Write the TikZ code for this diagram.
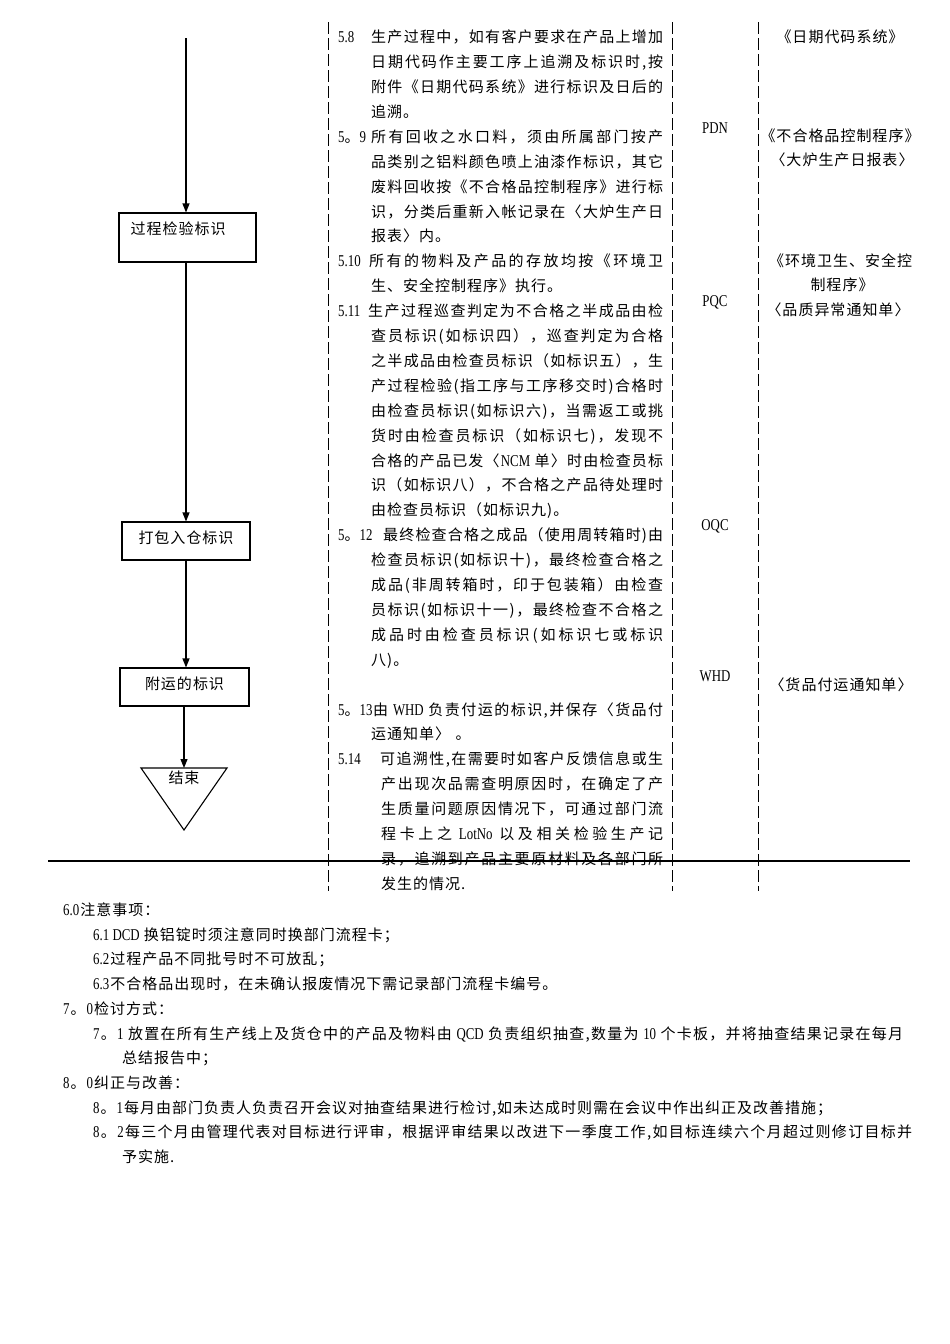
\documentclass[tikz,border=0pt]{standalone}
\usepackage{fontspec}
\setmainfont{Noto Sans CJK SC}
\newfontfamily\latf{Liberation Serif}[FakeStretch=0.78,Scale=1.1]
\usetikzlibrary{arrows.meta}
\ExplSyntaxOn
\cs_new_protected:Npn \rs_nat:n #1
  { \tl_map_inline:nn {#1} { {##1} \skip_horizontal:n { 1pt } } \unskip }
\cs_new_protected:Npn \rs_just:nn #1#2
  { \hbox_to_wd:nn {#1} { \tl_map_inline:nn {#2} { {##1} \skip_horizontal:n { 1pt plus 1fil } } \unskip } }
\NewDocumentCommand \NT { m } { \rs_nat:n {#1} }
\NewDocumentCommand \JT { m m } { \rs_just:nn {#1} {#2} }
\ExplSyntaxOff
\newcommand\ly[1]{(42.7+24.9*#1)}
\newcommand\by[1]{(915.5+24.7*#1)}
\newcommand\JLine[5]{\node[nl] (#1) at (#2,{\ly{#3}}) {\JT{#4pt}{#5}};}
\newcommand\NLine[4]{\node[nl] (#1) at (#2,{\ly{#3}}) {\NT{#4}};}
\newcommand\NumL[3]{\node[nl] (#1) at (338,{\ly{#2}}) {#3};}
\begin{document}
\begin{tikzpicture}[x=1pt,y=-1pt,
  every node/.style={inner sep=0pt,font=\fontsize{15}{18}\selectfont},
  nl/.style={anchor=base west},
  flowbox/.style={draw,line width=1.1pt},
  arr/.style={-{Triangle[length=9pt,width=7pt]},line width=1.1pt},
  vline/.style={dash pattern=on 12pt off 4pt,line width=0.9pt},
]
\useasboundingbox (0,0) rectangle (950,1344);

% column separators
\draw[vline] (328,22) -- (328,891);
\draw[vline] (672,22) -- (672,891);
\draw[vline] (758,22) -- (758,891);

% flow chart
\coordinate (start) at (186,38);
\node[flowbox,minimum width=137pt,minimum height=49pt] (b1) at (187.5,237.5) {};
\node[anchor=west] (b1t) at (130.5,229) {\NT{过程检验标识}};
\node[flowbox,minimum width=128pt,minimum height=38pt] (b2) at (186,541) {};
\node (b2t) at (186,538) {\NT{打包入仓标识}};
\node[flowbox,minimum width=129pt,minimum height=38pt] (b3) at (184.5,687) {};
\node (b3t) at (184.5,684) {\NT{附运的标识}};
\coordinate (tl) at (141,768);
\coordinate (tr) at (227,768);
\coordinate (tb) at (184,830);
\coordinate (endtop) at (184,768);
\draw[line width=1.1pt] (tl) -- (tr) -- (tb) -- cycle;
\node (endt) at (184,778) {\NT{结束}};
\draw[arr] (start) -- (start |- b1.north);
\draw[arr] (b2.north |- b1.south) -- (b2.north);
\draw[arr] (b2.south) -- (b2.south |- b3.north);
\draw[arr] (endtop |- b3.south) -- (endtop);

% column 2 text
\NumL{n58}{0}{{\latf 5.8}}
\JLine{l0}{371}{0}{292}{生产过程中，如有客户要求在产品上增加}
\JLine{l1}{371}{1}{292}{日期代码作主要工序上追溯及标识时,按}
\JLine{l2}{371}{2}{292}{附件《日期代码系统》进行标识及日后的}
\NLine{l3}{371}{3}{追溯。}
\NumL{n59}{4}{{\latf 5}。{\latf 9}}
\JLine{l4}{371}{4}{292}{所有回收之水口料，须由所属部门按产}
\JLine{l5}{371}{5}{292}{品类别之铝料颜色喷上油漆作标识，其它}
\JLine{l6}{371}{6}{292}{废料回收按《不合格品控制程序》进行标}
\JLine{l7}{371}{7}{292}{识，分类后重新入帐记录在〈大炉生产日}
\NLine{l8}{371}{8}{报表〉内。}
\NumL{n510}{9}{{\latf 5.10}}
\JLine{l9}{369}{9}{294}{所有的物料及产品的存放均按《环境卫}
\NLine{l10}{371}{10}{生、安全控制程序》执行。}
\NumL{n511}{11}{{\latf 5.11}}
\JLine{l11}{368}{11}{295}{生产过程巡查判定为不合格之半成品由检}
\JLine{l12}{371}{12}{292}{查员标识(如标识四），巡查判定为合格}
\JLine{l13}{371}{13}{292}{之半成品由检查员标识（如标识五），生}
\JLine{l14}{371}{14}{292}{产过程检验(指工序与工序移交时)合格时}
\JLine{l15}{371}{15}{292}{由检查员标识(如标识六)，当需返工或挑}
\JLine{l16}{371}{16}{292}{货时由检查员标识（如标识七)，发现不}
\JLine{l17}{371}{17}{292}{合格的产品已发〈{\latf NCM }单〉时由检查员标}
\JLine{l18}{371}{18}{292}{识（如标识八），不合格之产品待处理时}
\NLine{l19}{371}{19}{由检查员标识（如标识九)。}
\NumL{n512}{20}{{\latf 5}。{\latf 12}}
\JLine{l20}{383}{20}{280}{最终检查合格之成品（使用周转箱时)由}
\JLine{l21}{371}{21}{292}{检查员标识(如标识十)，最终检查合格之}
\JLine{l22}{371}{22}{292}{成品(非周转箱时，印于包装箱）由检查}
\JLine{l23}{371}{23}{292}{员标识(如标识十一)，最终检查不合格之}
\JLine{l24}{371}{24}{292}{成品时由检查员标识(如标识七或标识}
\NLine{l25}{371}{25}{八)。}
\NumL{n513}{27}{{\latf 5}。{\latf 13}}
\JLine{l27}{373}{27}{290}{由{ \latf WHD }负责付运的标识,并保存〈货品付}
\NLine{l28}{371}{28}{运通知单〉{ }。}
\NumL{n514}{29}{{\latf 5.14}}
\JLine{l29}{380}{29}{283}{可追溯性,在需要时如客户反馈信息或生}
\JLine{l30}{381}{30}{282}{产出现次品需查明原因时，在确定了产}
\JLine{l31}{381}{31}{282}{生质量问题原因情况下，可通过部门流}
\JLine{l32}{381}{32}{282}{程卡上之{ \latf LotNo }以及相关检验生产记}
\JLine{l33}{381}{33}{282}{录，追溯到产品主要原材料及各部门所}
\NLine{l34}{381}{34}{发生的情况.}

% column 3
\node (pdn) at (715,128) {\latf PDN};
\node (pqc) at (715,302) {\latf PQC};
\node (oqc) at (715,526) {\latf OQC};
\node (whd) at (715,676) {\latf WHD};

% column 4
\node (r1) at (840,37) {\NT{《日期代码系统》}};
\node (r2) at (840,136) {\NT{《不合格品控制程序》}};
\node (r3) at (842,160) {\NT{〈大炉生产日报表〉}};
\node[anchor=west] (r4) at (769,261) {\JT{140pt}{《环境卫生、安全控}};
\node (r5) at (842,285) {\NT{制程序》}};
\node (r6) at (838,310) {\NT{〈品质异常通知单〉}};
\node (r7) at (841,685) {\NT{〈货品付运通知单〉}};

% horizontal rule
\draw[line width=1.2pt] (48,861) -- (910,861);

% bottom text
\node[nl] (s60) at (63,{\by{0}}) {\NT{{\latf 6.0}注意事项：}};
\node[nl] (s61) at (93,{\by{1}}) {\NT{{\latf 6.1 DCD }换铝锭时须注意同时换部门流程卡；}};
\node[nl] (s62) at (93,{\by{2}}) {\NT{{\latf 6.2}过程产品不同批号时不可放乱；}};
\node[nl] (s63) at (93,{\by{3}}) {\NT{{\latf 6.3}不合格品出现时，在未确认报废情况下需记录部门流程卡编号。}};
\node[nl] (s70) at (63,{\by{4}}) {\NT{{\latf 7}。{\latf 0}检讨方式：}};
\node[nl] (s71) at (93,{\by{5}}) {\JT{810pt}{{\latf 7}。{\latf 1 }放置在所有生产线上及货仓中的产品及物料由{ \latf QCD }负责组织抽查,数量为{ \latf 10 }个卡板，并将抽查结果记录在每月}};
\node[nl] (s71b) at (122,{\by{6}}) {\NT{总结报告中；}};
\node[nl] (s80) at (63,{\by{7}}) {\NT{{\latf 8}。{\latf 0}纠正与改善：}};
\node[nl] (s81) at (93,{\by{8}}) {\NT{{\latf 8}。{\latf 1}每月由部门负责人负责召开会议对抽查结果进行检讨,如未达成时则需在会议中作出纠正及改善措施；}};
\node[nl] (s82) at (93,{\by{9}}) {\JT{819pt}{{\latf 8}。{\latf 2}每三个月由管理代表对目标进行评审，根据评审结果以改进下一季度工作,如目标连续六个月超过则修订目标并}};
\node[nl] (s82b) at (122,{\by{10}}) {\NT{予实施.}};
\end{tikzpicture}
\end{document}
